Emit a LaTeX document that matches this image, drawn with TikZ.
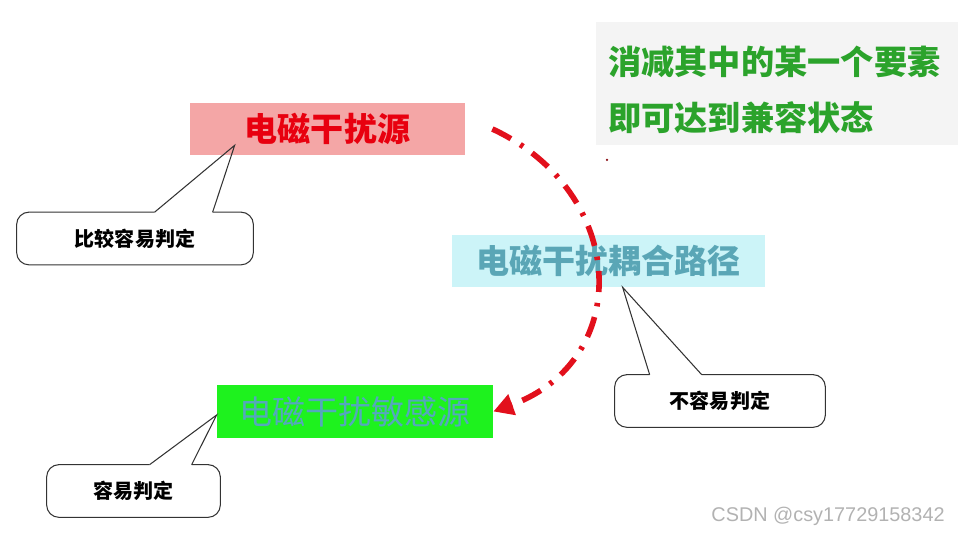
\documentclass[tikz,border=0pt]{standalone}
\usepackage{fontspec}
\newfontfamily\cjk{Noto Sans CJK SC}
\setsansfont{Liberation Sans}
\usetikzlibrary{arrows.meta,positioning,calc}
\definecolor{srcred}{HTML}{F4A6A6}
\definecolor{srctxt}{HTML}{E8000F}
\definecolor{pathcyan}{HTML}{CCF4F8}
\definecolor{pathtxt}{HTML}{5AA6B6}
\definecolor{sensgreen}{HTML}{1EF21E}
\definecolor{senstxt}{HTML}{55A8BC}
\definecolor{notegray}{HTML}{F4F4F4}
\definecolor{notegreen}{HTML}{2BA32B}
\definecolor{arcred}{HTML}{E2101C}
\definecolor{bubline}{HTML}{333333}
\tikzset{
  blk/.style={rectangle,fill=#1,inner sep=0pt,minimum height=1.04cm,
              font=\cjk\bfseries\fontsize{18.8}{22}\selectfont},
  bubble/.style={rectangle,inner sep=0pt,minimum height=1.04cm,
                 font=\cjk\bfseries\fontsize{11.4}{14}\selectfont},
  tail/.style={draw=bubline,line width=0.6pt},
  notetxt/.style={anchor=west,inner sep=0pt,text=notegreen,
                  font=\cjk\bfseries\fontsize{18.9}{22}\selectfont},
  arcarr/.style={arcred,line width=3.2pt,
                 dash pattern=on 0.42cm off 0.22cm on 0.07cm off 0.22cm,
                 -{Triangle[length=0.4cm,width=0.42cm]}},
}

\begin{document}
\begin{tikzpicture}
  \useasboundingbox (0,0) rectangle (19.16,10.72);

  %% ── three elements ──────────────────────────────────────────────────────
  \node[blk=srcred,text=srctxt,minimum width=5.5cm]     (src)  at (6.55,8.14)  {电磁干扰源};
  \node[blk=pathcyan,text=pathtxt,minimum width=6.26cm] (path) at (12.17,5.50) {电磁干扰耦合路径};
  \node[blk=sensgreen,text=senstxt,minimum width=5.52cm,
        minimum height=1.06cm,
        font=\cjk\fontsize{18.8}{22}\selectfont]        (sens) at (7.10,2.49)  {电磁干扰敏感源};

  %% ── note top right ──────────────────────────────────────────────────────
  \node[fill=notegray,minimum width=7.24cm,minimum height=2.46cm,
        inner sep=0pt] (notebg) at (15.54,9.05) {};
  \node[notetxt] (note1) at (12.16,9.48) {消减其中的某一个要素};
  \node[notetxt] (note2) at (12.16,8.36) {即可达到兼容状态};

  %% ── callouts ────────────────────────────────────────────────────────────
  \node[bubble,minimum width=4.72cm] (cb1) at (2.70,5.95) {比较容易判定};
  \node[bubble,minimum width=4.2cm]  (cb3) at (14.40,2.70) {不容易判定};
  \node[bubble,minimum width=3.46cm] (cb2) at (2.67,0.90) {容易判定};

  \coordinate (t1) at ($(src.south west)+(0.9,0.2)$);
  \coordinate (t3) at ($(path.south west)+(3.42,0)$);
  \coordinate (t2) at ($(sens.west)+(0,-0.07)$);

  \draw[tail,rounded corners=7pt] ($(cb1.north west)+(2.76,0)$) -- (cb1.north west)
    -- (cb1.south west) -- (cb1.south east) -- (cb1.north east) -- ($(cb1.north west)+(3.92,0)$);
  \draw[tail] ($(cb1.north west)+(2.76,0)$) -- (t1) -- ($(cb1.north west)+(3.92,0)$);

  \draw[tail,rounded corners=7pt] ($(cb3.north west)+(0.7,0)$) -- (cb3.north west)
    -- (cb3.south west) -- (cb3.south east) -- (cb3.north east) -- ($(cb3.north west)+(1.74,0)$);
  \draw[tail] ($(cb3.north west)+(0.7,0)$) -- (t3) -- ($(cb3.north west)+(1.74,0)$);

  \draw[tail,rounded corners=7pt] ($(cb2.north west)+(2.06,0)$) -- (cb2.north west)
    -- (cb2.south west) -- (cb2.south east) -- (cb2.north east) -- ($(cb2.north west)+(2.9,0)$);
  \draw[tail] ($(cb2.north west)+(2.06,0)$) -- (t2) -- ($(cb2.north west)+(2.9,0)$);

  %% ── coupling arc ────────────────────────────────────────────────────────
  \coordinate (arcstart) at ($(src.east)+(0.54,0)$);
  \draw[arcarr] (arcstart) .. controls +(-25:3) and +(20:3) .. (sens.east);
  \fill[arcred!60!black] (12.14,7.52) circle (0.025);

  %% ── watermark ───────────────────────────────────────────────────────────
  \node[anchor=east,inner sep=0pt,text=gray!60,
        font=\sffamily\fontsize{11.3}{14}\selectfont] (mark) at (18.9,0.40) {CSDN @csy17729158342};

\end{tikzpicture}
\end{document}
